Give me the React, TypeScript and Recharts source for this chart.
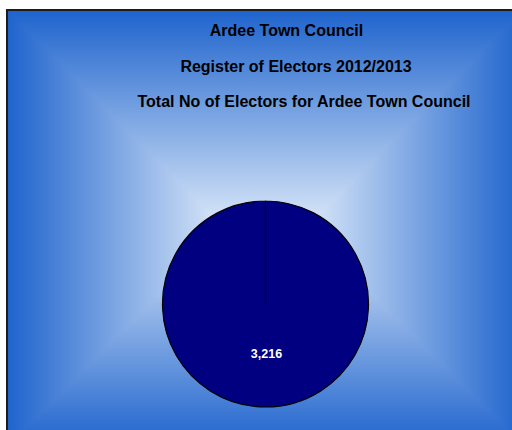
import { PieChart, Pie, Cell } from 'recharts';

const sliceNames = ['Ardee Town Council'];
const sliceValues = [3216];
const sliceColors = ['#000080'];
const titleLines = [
  'Ardee Town Council',
  'Register of Electors 2012/2013',
  'Total No of Electors for Ardee Town Council',
];

const data = sliceNames.map((name, i) => ({ name, value: sliceValues[i] }));

const RADIAN = Math.PI / 180;

// box of the plot background (page coords)
const L = 8;
const T = 11;
const R = 522;
const B = 445;
const H2 = (B - T) / 2;
const MY = T + H2;
const EDGE = '#1f64cd';
const CENTER = '#dce9f9';

function renderLabel(props: any) {
  const { cx, cy, midAngle, outerRadius, value } = props;
  const r = outerRadius * 0.49;
  const x = cx + r * Math.cos(-midAngle * RADIAN);
  const y = cy + r * Math.sin(-midAngle * RADIAN);
  return (
    <text
      x={x + 1}
      y={y}
      fill="#ffffff"
      textAnchor="middle"
      dominantBaseline="central"
      fontSize={12.5}
      fontWeight="bold"
      fontFamily="'Liberation Sans', Arial, sans-serif"
    >
      {value.toLocaleString('en-US')}
    </text>
  );
}

function Background() {
  const titleX = [286.5, 296, 304];
  const titleY = [36, 71.5, 106.5];
  const polys = [
    { id: 'gTop', pts: `${L},${T} ${R},${T} ${R - H2},${MY} ${L + H2},${MY}` },
    { id: 'gBot', pts: `${L},${B} ${R},${B} ${R - H2},${MY} ${L + H2},${MY}` },
    { id: 'gLeft', pts: `${L},${T} ${L},${B} ${L + H2},${MY}` },
    { id: 'gRight', pts: `${R},${T} ${R},${B} ${R - H2},${MY}` },
  ];
  return (
    <svg width={512} height={430} style={{ position: 'absolute', left: 0, top: 0 }}>
      <defs>
        <linearGradient id="gTop" gradientUnits="userSpaceOnUse" x1={0} y1={T} x2={0} y2={MY}>
          <stop offset="0" stopColor={EDGE} />
          <stop offset="1" stopColor={CENTER} />
        </linearGradient>
        <linearGradient id="gBot" gradientUnits="userSpaceOnUse" x1={0} y1={B} x2={0} y2={MY}>
          <stop offset="0" stopColor={EDGE} />
          <stop offset="1" stopColor={CENTER} />
        </linearGradient>
        <linearGradient id="gLeft" gradientUnits="userSpaceOnUse" x1={L} y1={0} x2={L + H2} y2={0}>
          <stop offset="0" stopColor={EDGE} />
          <stop offset="1" stopColor={CENTER} />
        </linearGradient>
        <linearGradient id="gRight" gradientUnits="userSpaceOnUse" x1={R} y1={0} x2={R - H2} y2={0}>
          <stop offset="0" stopColor={EDGE} />
          <stop offset="1" stopColor={CENTER} />
        </linearGradient>
      </defs>
      {polys.map((p) => (
        <polygon key={p.id} points={p.pts} fill={`url(#${p.id})`} stroke={`url(#${p.id})`} strokeWidth={1} />
      ))}
      <rect x={7} y={10} width={R - 6} height={B - 9} fill="none" stroke="#1c1c1c" strokeWidth={2} />
      {titleLines.map((t, i) => (
        <text
          key={t}
          x={titleX[i]}
          y={titleY[i]}
          textAnchor="middle"
          fontSize={16}
          fontWeight="bold"
          fill="#000000"
          fontFamily="'Liberation Sans', Arial, sans-serif"
        >
          {t}
        </text>
      ))}
    </svg>
  );
}

export default function App() {
  return (
    <div style={{ position: 'fixed', left: 0, top: 0, width: 512, height: 430, overflow: 'hidden', background: '#ffffff' }}>
      <Background />
      <div style={{ position: 'absolute', left: 0, top: 0 }}>
        <PieChart width={512} height={430} margin={{ top: 0, right: 0, bottom: 0, left: 0 }}>
          <Pie
            data={data}
            dataKey="value"
            nameKey="name"
            cx={265.5}
            cy={304}
            outerRadius={103}
            startAngle={90}
            endAngle={-270}
            stroke="#000000"
            strokeWidth={1.2}
            label={renderLabel}
            labelLine={false}
            isAnimationActive={false}
          >
            {data.map((d, i) => (
              <Cell key={d.name} fill={sliceColors[i]} />
            ))}
          </Pie>
        </PieChart>
      </div>
    </div>
  );
}
